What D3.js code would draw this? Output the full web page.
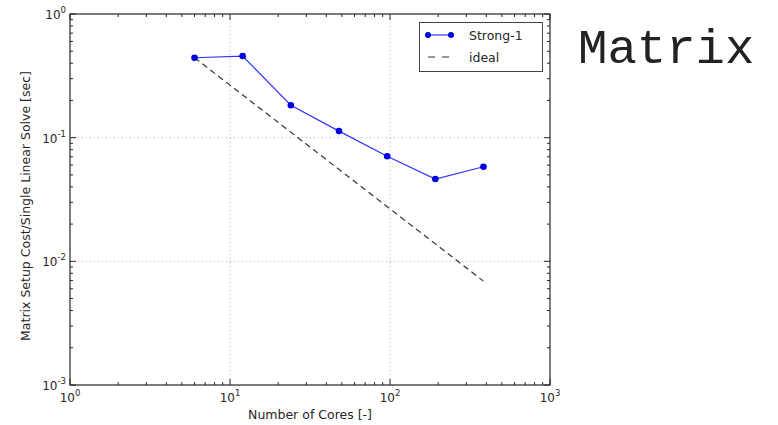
<!DOCTYPE html>
<html><head><meta charset="utf-8">
<script src="https://cdn.jsdelivr.net/npm/d3@7"></script>
<style>body{margin:0;background:#fff}svg{display:block}</style>
</head><body>
<svg id="c" width="778" height="425"></svg>
<script>
const cores = [6, 12, 24, 48, 96, 192, 384];
const strong1 = [0.443, 0.457, 0.183, 0.113, 0.0707, 0.0463, 0.0582];
const idealCores = [6, 384];
const ideal = [0.443, 0.00692];
const xTicks = [1, 10, 100, 1000];
const yTicks = [0.001, 0.01, 0.1, 1];
const xTickExp = ["0", "1", "2", "3"];
const yTickExp = ["-3", "-2", "-1", "0"];

const svg = d3.select("#c");
const L = 70, R = 550, T = 14, B = 385;
const x = d3.scaleLog().domain([1, 1000]).range([L, R]);
const y = d3.scaleLog().domain([0.001, 1]).range([B, T]);
const font = "'DejaVu Sans', sans-serif";
const ink = "#262626";

// grid
const g = svg.append("g");
xTicks.slice(1, -1).forEach(v => g.append("line").attr("x1", x(v)).attr("x2", x(v)).attr("y1", T).attr("y2", B)
  .attr("stroke", "#b0b0b0").attr("stroke-width", 1).attr("stroke-dasharray", "1,3"));
yTicks.slice(1, -1).forEach(v => g.append("line").attr("x1", L).attr("x2", R).attr("y1", y(v)).attr("y2", y(v))
  .attr("stroke", "#b0b0b0").attr("stroke-width", 1).attr("stroke-dasharray", "1,3"));

// minor/major ticks inside on all four sides
function minors(lo, hi) { const a = []; for (let d = lo; d < hi; d *= 10) for (let k = 2; k <= 9; k++) a.push(d * k); return a; }
const tk = svg.append("g").attr("stroke", ink).attr("stroke-width", 1);
minors(1, 1000).forEach(v => {
  tk.append("line").attr("x1", x(v)).attr("x2", x(v)).attr("y1", B).attr("y2", B - 3);
  tk.append("line").attr("x1", x(v)).attr("x2", x(v)).attr("y1", T).attr("y2", T + 3);
});
minors(0.001, 1).forEach(v => {
  tk.append("line").attr("y1", y(v)).attr("y2", y(v)).attr("x1", L).attr("x2", L + 3);
  tk.append("line").attr("y1", y(v)).attr("y2", y(v)).attr("x1", R).attr("x2", R - 3);
});
xTicks.forEach(v => {
  tk.append("line").attr("x1", x(v)).attr("x2", x(v)).attr("y1", B).attr("y2", B - 6);
  tk.append("line").attr("x1", x(v)).attr("x2", x(v)).attr("y1", T).attr("y2", T + 6);
});
yTicks.forEach(v => {
  tk.append("line").attr("y1", y(v)).attr("y2", y(v)).attr("x1", L).attr("x2", L + 6);
  tk.append("line").attr("y1", y(v)).attr("y2", y(v)).attr("x1", R).attr("x2", R - 6);
});

// tick labels
xTicks.forEach((v, i) => {
  const t = svg.append("text").attr("x", x(v)).attr("y", B + 17).attr("text-anchor", "middle")
    .attr("font-family", font).attr("font-size", 12).attr("fill", ink);
  t.append("tspan").text("10");
  t.append("tspan").attr("dy", -6).attr("font-size", 8.5).text(xTickExp[i]);
});
yTicks.forEach((v, i) => {
  const t = svg.append("text").attr("x", L - 4).attr("y", y(v) + 5).attr("text-anchor", "end")
    .attr("font-family", font).attr("font-size", 12).attr("fill", ink);
  t.append("tspan").text("10");
  t.append("tspan").attr("dy", -6).attr("font-size", 8.5).text(yTickExp[i]);
});

// axis labels
svg.append("text").attr("x", (L + R) / 2).attr("y", 419).attr("text-anchor", "middle")
  .attr("font-family", font).attr("font-size", 12.5).attr("fill", ink).text("Number of Cores [-]");
svg.append("text").attr("transform", `translate(30,206) rotate(-90)`).attr("text-anchor", "middle")
  .attr("font-family", font).attr("font-size", 12.5).attr("fill", ink).text("Matrix Setup Cost/Single Linear Solve [sec]");

// ideal dashed line
const line = d3.line().x(d => x(d[0])).y(d => y(d[1]));
svg.append("path").datum(idealCores.map((c, i) => [c, ideal[i]])).attr("d", line)
  .attr("fill", "none").attr("stroke", "#333").attr("stroke-width", 1.2).attr("stroke-dasharray", "6,4");

// strong-1 series
svg.append("path").datum(cores.map((c, i) => [c, strong1[i]])).attr("d", line)
  .attr("fill", "none").attr("stroke", "#3333ff").attr("stroke-width", 1.2);
svg.selectAll("circle.p").data(cores.map((c, i) => [c, strong1[i]])).enter().append("circle")
  .attr("cx", d => x(d[0])).attr("cy", d => y(d[1])).attr("r", 3.3).attr("fill", "#0000dd");

// spines
svg.append("rect").attr("x", L).attr("y", T).attr("width", R - L).attr("height", B - T)
  .attr("fill", "none").attr("stroke", ink).attr("stroke-width", 1.2);

// legend
const lg = svg.append("g");
lg.append("rect").attr("x", 419.5).attr("y", 22.5).attr("width", 123).attr("height", 49)
  .attr("fill", "#fff").attr("stroke", "#444").attr("stroke-width", 1);
lg.append("line").attr("x1", 428).attr("x2", 451).attr("y1", 35).attr("y2", 35).attr("stroke", "#3333ff").attr("stroke-width", 1.2);
[428, 451].forEach(cx => lg.append("circle").attr("cx", cx).attr("cy", 35).attr("r", 3).attr("fill", "#0000dd"));
lg.append("line").attr("x1", 428).attr("x2", 451).attr("y1", 57).attr("y2", 57).attr("stroke", "#333").attr("stroke-width", 1.2).attr("stroke-dasharray", "7,7");
lg.append("text").attr("x", 469).attr("y", 39.5).attr("font-family", font).attr("font-size", 12.5).attr("fill", ink).text("Strong-1");
lg.append("text").attr("x", 469).attr("y", 61.5).attr("font-family", font).attr("font-size", 12.5).attr("fill", ink).text("ideal");

// big title text
svg.append("text").attr("x", 578).attr("y", 63).attr("font-family", "'Liberation Mono', 'Courier New', monospace")
  .attr("font-size", 49).attr("fill", "#222").text("Matrix");
</script>
</body></html>
